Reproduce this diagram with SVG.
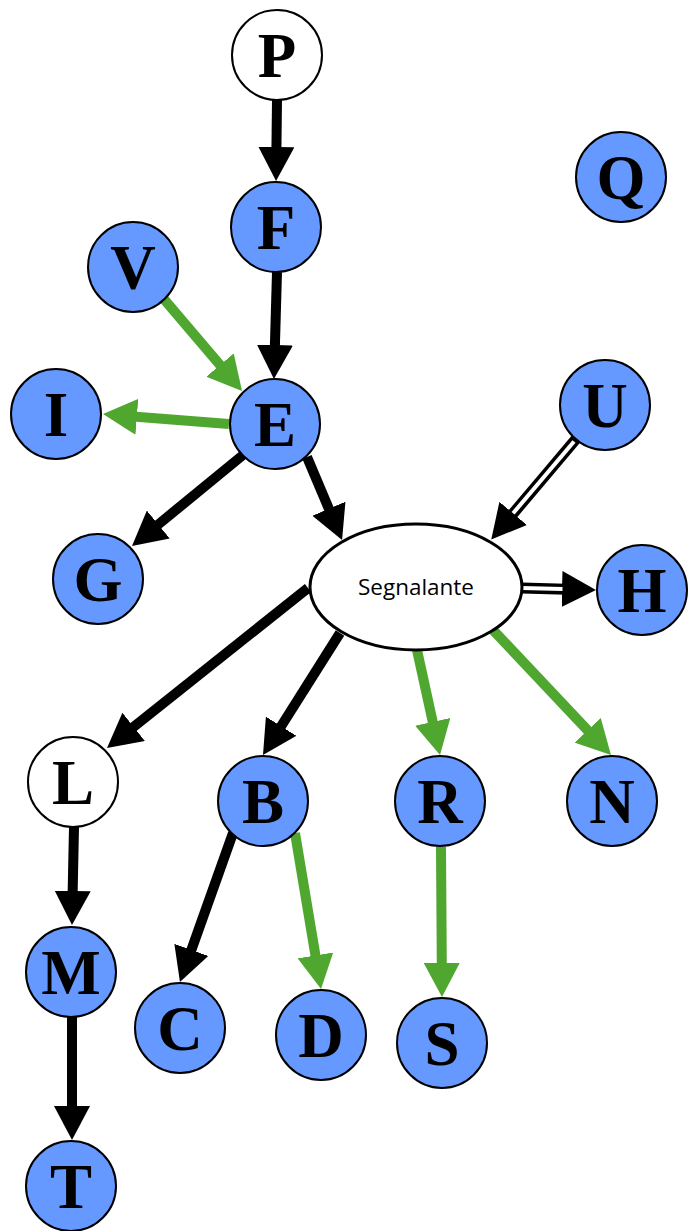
<svg xmlns="http://www.w3.org/2000/svg" width="689" height="1231" viewBox="0 0 689 1231">
<style>
.n{fill:#6699ff;stroke:#000;stroke-width:2}
.w{fill:#fff;stroke:#000;stroke-width:2}
.t{font-family:"Liberation Serif","Times New Roman",serif;font-weight:bold;font-size:63px;text-anchor:middle;fill:#000}
.k{stroke:#000;stroke-width:10;fill:none;marker-end:url(#ak)}
.g{stroke:#4fa72f;stroke-width:10;fill:none;marker-end:url(#ag)}
.d{stroke:#000;stroke-width:11;fill:none;marker-end:url(#ak)}
.dw{stroke:#fff;stroke-width:4;fill:none}
</style>
<defs>
<marker id="ak" markerUnits="userSpaceOnUse" markerWidth="34" markerHeight="36" viewBox="0 0 34 36" refX="4" refY="18" orient="auto"><path d="M0,0 L34,18 L0,36 z" fill="#000"/></marker>
<marker id="ag" markerUnits="userSpaceOnUse" markerWidth="34" markerHeight="36" viewBox="0 0 34 36" refX="4" refY="18" orient="auto"><path d="M0,0 L34,18 L0,36 z" fill="#4fa72f"/></marker>
</defs>
<rect width="689" height="1231" fill="#fff"/>
<g id="connectors">
<line class="k" x1="277" y1="100" x2="276.4" y2="151"/>
<line class="k" x1="277" y1="272" x2="274.8" y2="349"/>
<line class="g" x1="163" y1="298" x2="222.6" y2="368.1"/>
<line class="g" x1="229" y1="424" x2="132.9" y2="416.4"/>
<line class="k" x1="243" y1="455" x2="155.2" y2="527"/>
<line class="k" x1="307" y1="457" x2="330.4" y2="512.4"/>
<line class="d" x1="576" y1="439" x2="510.6" y2="516.5"/>
<line class="dw" x1="574" y1="441.5" x2="513.1" y2="513.3"/>
<line class="d" x1="522" y1="588" x2="566" y2="589.2"/>
<line class="dw" x1="522" y1="588" x2="562.5" y2="589.1"/>
<line class="k" x1="308" y1="588" x2="130.5" y2="729.3"/>
<line class="k" x1="340" y1="633" x2="279" y2="729.6"/>
<line class="g" x1="417" y1="650" x2="433.6" y2="725.7"/>
<line class="g" x1="493" y1="630" x2="590.4" y2="733.2"/>
<line class="k" x1="233" y1="833" x2="190" y2="953.7"/>
<line class="g" x1="295" y1="833" x2="316.1" y2="959.4"/>
<line class="g" x1="441" y1="847" x2="441.8" y2="967"/>
<line class="k" x1="74" y1="827" x2="72.6" y2="895"/>
<line class="k" x1="72" y1="1017" x2="72" y2="1110"/>
</g>
<g id="node-P"><circle class="w" cx="277" cy="55" r="45"/><text class="t" x="277" y="77">P</text></g>
<g id="node-F"><circle class="n" cx="276" cy="227" r="45"/><text class="t" x="276" y="249">F</text></g>
<g id="node-V"><circle class="n" cx="133" cy="267" r="45"/><text class="t" x="133" y="289">V</text></g>
<g id="node-Q"><circle class="n" cx="621" cy="177" r="45"/><text class="t" x="621" y="199">Q</text></g>
<g id="node-I"><circle class="n" cx="56" cy="414" r="45"/><text class="t" x="56" y="436">I</text></g>
<g id="node-E"><circle class="n" cx="275" cy="424" r="45"/><text class="t" x="275" y="446">E</text></g>
<g id="node-U"><circle class="n" cx="605" cy="405" r="45"/><text class="t" x="605" y="427">U</text></g>
<g id="node-G"><circle class="n" cx="98" cy="579" r="45"/><text class="t" x="98" y="601">G</text></g>
<g id="node-Segnalante"><ellipse cx="416" cy="587" rx="106" ry="63" fill="#fff" stroke="#000" stroke-width="3"/><text x="416" y="595" font-family="'Open Sans','Liberation Sans',sans-serif" font-size="21" text-anchor="middle" textLength="116" lengthAdjust="spacingAndGlyphs" fill="#000">Segnalante</text></g>
<g id="node-H"><circle class="n" cx="642" cy="590" r="45"/><text class="t" x="642" y="612">H</text></g>
<g id="node-L"><circle class="w" cx="73" cy="782" r="45"/><text class="t" x="73" y="804">L</text></g>
<g id="node-B"><circle class="n" cx="263" cy="801" r="45"/><text class="t" x="263" y="823">B</text></g>
<g id="node-R"><circle class="n" cx="440" cy="801" r="45"/><text class="t" x="440" y="823">R</text></g>
<g id="node-N"><circle class="n" cx="612" cy="801" r="45"/><text class="t" x="612" y="823">N</text></g>
<g id="node-M"><circle class="n" cx="71" cy="972" r="45"/><text class="t" x="71" y="994">M</text></g>
<g id="node-C"><circle class="n" cx="180" cy="1028" r="45"/><text class="t" x="180" y="1050">C</text></g>
<g id="node-D"><circle class="n" cx="321" cy="1035" r="45"/><text class="t" x="321" y="1057">D</text></g>
<g id="node-S"><circle class="n" cx="442" cy="1043" r="45"/><text class="t" x="442" y="1065">S</text></g>
<g id="node-T"><circle class="n" cx="71" cy="1186" r="45"/><text class="t" x="71" y="1208">T</text></g>
</svg>
